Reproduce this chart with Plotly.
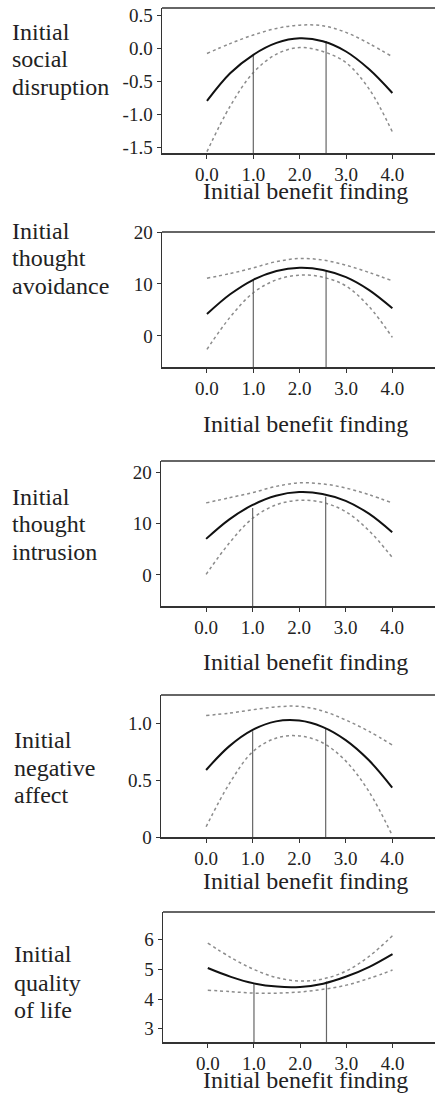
import plotly.graph_objects as go

W, H = 435, 1097

# ---------------- data ----------------
x_vals = [0.0, 0.5, 1.0, 1.5, 2.0, 2.5, 3.0, 3.5, 4.0]
x_ticks = [0, 1, 2, 3, 4]
x_ticktext = ["0.0", "1.0", "2.0", "3.0", "4.0"]
x_title = "Initial benefit finding"
moderator_x = [1.0, 2.57]

# Panel 1: social disruption
p1_label = ["Initial", "social", "disruption"]
p1_fit = [-0.80, -0.38, -0.10, 0.08, 0.15, 0.105, -0.05, -0.32, -0.68]
p1_upper = [-0.08, 0.07, 0.20, 0.30, 0.35, 0.34, 0.24, 0.07, -0.13]
p1_lower = [-1.57, -0.88, -0.37, -0.09, 0.01, -0.05, -0.22, -0.62, -1.27]
p1_mod_top = [-0.11, 0.11]
p1_yticks = [0.5, 0.0, -0.5, -1.0, -1.5]
p1_yticktext = ["0.5", "0.0", "-0.5", "-1.0", "-1.5"]

# Panel 2: thought avoidance
p2_label = ["Initial", "thought", "avoidance"]
p2_fit = [4.2, 8.0, 10.8, 12.5, 13.1, 12.7, 11.3, 8.8, 5.3]
p2_upper = [11.1, 12.0, 13.1, 14.3, 14.9, 14.6, 13.6, 12.2, 10.6]
p2_lower = [-2.6, 3.6, 8.3, 10.8, 11.7, 11.3, 9.6, 5.6, -0.3]
p2_mod_top = [10.8, 12.4]
p2_yticks = [0, 10, 20]
p2_yticktext = ["0", "10", "20"]

# Panel 3: thought intrusion
p3_label = ["Initial", "thought", "intrusion"]
p3_fit = [7.0, 10.8, 13.6, 15.4, 16.1, 15.75, 14.4, 11.9, 8.3]
p3_upper = [14.0, 15.0, 16.0, 17.2, 17.9, 17.7, 16.9, 15.6, 14.0]
p3_lower = [0.1, 6.2, 11.0, 13.6, 14.5, 14.1, 12.3, 8.6, 3.4]
p3_mod_top = [13.0, 15.2]
p3_yticks = [0, 10, 20]
p3_yticktext = ["0", "10", "20"]

# Panel 4: negative affect
p4_label = ["Initial", "negative", "affect"]
p4_fit = [0.59, 0.80, 0.943, 1.018, 1.025, 0.97, 0.853, 0.675, 0.435]
p4_upper = [1.07, 1.09, 1.12, 1.145, 1.15, 1.11, 1.03, 0.93, 0.81]
p4_lower = [0.09, 0.47, 0.75, 0.87, 0.89, 0.83, 0.67, 0.40, 0.015]
p4_mod_top = [0.93, 0.957]
p4_yticks = [0, 0.5, 1.0]
p4_yticktext = ["0", "0.5", "1.0"]

# Panel 5: quality of life
p5_label = ["Initial", "quality", "of life"]
p5_fit = [5.05, 4.75, 4.53, 4.42, 4.41, 4.52, 4.76, 5.09, 5.52]
p5_upper = [5.89, 5.40, 5.00, 4.72, 4.61, 4.68, 4.95, 5.45, 6.14]
p5_lower = [4.30, 4.25, 4.20, 4.20, 4.24, 4.33, 4.47, 4.70, 4.98]
p5_mod_top = [4.53, 4.59]
p5_yticks = [3, 4, 5, 6]
p5_yticktext = ["3", "4", "5", "6"]

# ---------------- layout (pixel geometry) ----------------
panels = [
    dict(label=p1_label, fit=p1_fit, up=p1_upper, lo=p1_lower, mod=p1_mod_top,
         yt=p1_yticks, ytt=p1_yticktext, yr=[-1.59, 0.61],
         top=8, bot=153, left=162, lab_y=[32, 59, 87], lab_x=10, title_y=191),
    dict(label=p2_label, fit=p2_fit, up=p2_upper, lo=p2_lower, mod=p2_mod_top,
         yt=p2_yticks, ytt=p2_yticktext, yr=[-6.0, 20.0],
         top=232, bot=367, left=162, lab_y=[231, 258, 286], lab_x=10, title_y=424),
    dict(label=p3_label, fit=p3_fit, up=p3_upper, lo=p3_lower, mod=p3_mod_top,
         yt=p3_yticks, ytt=p3_yticktext, yr=[-6.06, 22.15],
         top=461, bot=606, left=161, lab_y=[497, 524, 552], lab_x=10, title_y=662),
    dict(label=p4_label, fit=p4_fit, up=p4_upper, lo=p4_lower, mod=p4_mod_top,
         yt=p4_yticks, ytt=p4_yticktext, yr=[0.0, 1.25],
         top=695, bot=837, left=161, lab_y=[740, 768, 795], lab_x=12, title_y=881),
    dict(label=p5_label, fit=p5_fit, up=p5_upper, lo=p5_lower, mod=p5_mod_top,
         yt=p5_yticks, ytt=p5_yticktext, yr=[2.55, 6.94],
         top=912, bot=1042, left=163, lab_y=[954, 983, 1010], lab_x=12, title_y=1080),
]

FONT = "Liberation Serif, Times New Roman, serif"
TXT = "#222222"
AX = "#333333"

fig = go.Figure()
layout = dict(template="none", width=W, height=H, margin=dict(l=0, r=0, t=0, b=0, pad=0),
              paper_bgcolor="white", plot_bgcolor="white", showlegend=False,
              font=dict(family=FONT, color=TXT, size=19))
annotations = []
shapes = []

for i, p in enumerate(panels, start=1):
    xa = "x" if i == 1 else f"x{i}"
    ya = "y" if i == 1 else f"y{i}"
    # dotted confidence bands
    for band in (p["up"], p["lo"]):
        fig.add_trace(go.Scatter(x=x_vals, y=band, mode="lines", xaxis=xa, yaxis=ya,
                                 line=dict(color="#8c8c8c", width=1.5, dash="dot", shape="spline"),
                                 hoverinfo="skip"))
    # moderator vertical lines
    for mx, mt in zip(moderator_x, p["mod"]):
        fig.add_trace(go.Scatter(x=[mx, mx], y=[p["yr"][0], mt], mode="lines", xaxis=xa, yaxis=ya,
                                 line=dict(color="#666666", width=1.2), hoverinfo="skip"))
    # fitted curve
    fig.add_trace(go.Scatter(x=x_vals, y=p["fit"], mode="lines", xaxis=xa, yaxis=ya,
                             line=dict(color="#111111", width=2, shape="spline"),
                             hoverinfo="skip"))

    y0 = 1 - p["bot"] / H
    y1 = 1 - p["top"] / H
    x0 = p["left"] / W
    layout[f"xaxis{'' if i == 1 else i}"] = dict(
        domain=[x0, 1], range=[-0.97, 4.92], anchor=ya, automargin=False,
        tickvals=x_ticks, ticktext=x_ticktext, ticks="outside", ticklen=4, tickwidth=1,
        tickcolor=AX, showline=True, linecolor=AX, linewidth=1.5, showgrid=False,
        zeroline=False, tickfont=dict(family=FONT, size=19, color=TXT), fixedrange=True)
    layout[f"yaxis{'' if i == 1 else i}"] = dict(
        domain=[y0, y1], range=p["yr"], anchor=xa, automargin=False,
        tickvals=p["yt"], ticktext=p["ytt"], ticks="outside", ticklen=4, tickwidth=1,
        tickcolor=AX, showline=True, linecolor=AX, linewidth=1.5, showgrid=False,
        zeroline=False, tickfont=dict(family=FONT, size=19, color=TXT), fixedrange=True)
    # top border line
    shapes.append(dict(type="line", xref="paper", yref="paper", x0=x0, x1=1, y0=y1, y1=y1,
                       line=dict(color=AX, width=1.5)))
    # axis title
    annotations.append(dict(text=x_title, xref="paper", yref="paper",
                            x=305 / W, y=1 - p["title_y"] / H, xanchor="center", yanchor="middle",
                            showarrow=False, font=dict(family=FONT, size=24, color=TXT)))
    # outcome label
    for line_txt, ly in zip(p["label"], p["lab_y"]):
        annotations.append(dict(text=line_txt, xref="paper", yref="paper",
                                x=p["lab_x"] / W, y=1 - ly / H, xanchor="left", yanchor="middle",
                                showarrow=False, font=dict(family=FONT, size=24, color=TXT)))

layout["annotations"] = annotations
layout["shapes"] = shapes
fig.update_layout(**layout)
fig.write_html("out.html", config={"displayModeBar": False, "staticPlot": True},
               post_script="document.body.style.margin='0';document.body.style.padding='0';"
                           "document.body.style.overflow='hidden';")
